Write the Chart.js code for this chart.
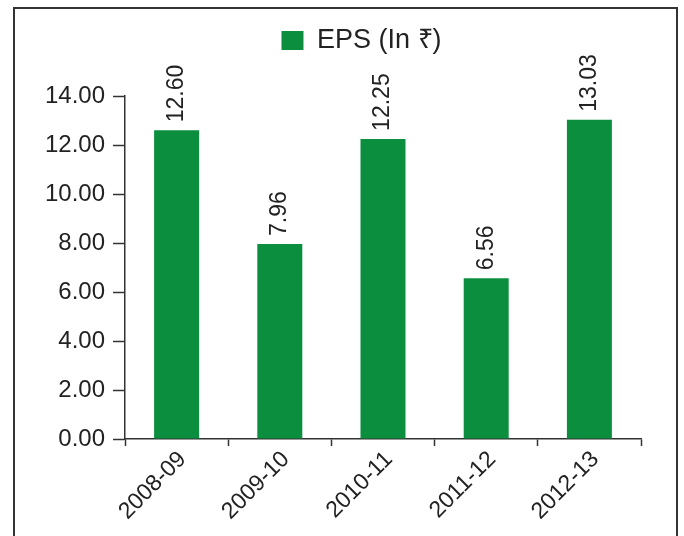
<!DOCTYPE html>
<html>
<head>
<meta charset="utf-8">
<script src="https://cdn.jsdelivr.net/npm/chart.js@4.4.0/dist/chart.umd.min.js"></script>
<style>
  html, body { margin: 0; padding: 0; background: #fff; overflow: hidden; }
  #wrap { position: relative; width: 684px; height: 536px; }
  #frame {
    position: absolute; left: 13px; top: 7px; width: 665px; height: 600px;
    border: 2px solid #333; box-sizing: border-box;
  }
  canvas { position: absolute; left: 0; top: 0; }
</style>
</head>
<body>
<div id="wrap">
  <div id="frame"></div>
  <canvas id="chart" width="684" height="536"></canvas>
</div>
<script>
const years = ["2008-09", "2009-10", "2010-11", "2011-12", "2012-13"];
const eps = [12.60, 7.96, 12.25, 6.56, 13.03];
const seriesName = "EPS (In \u20B9)";

const FONT = "'Liberation Sans', Arial, sans-serif";
const GREEN = "#0b8f3f";
const INK = "#222";

// leave room under the legend and nudge it right, like the original
const legendGap = {
  id: "legendGap",
  beforeUpdate(chart) {
    const lg = chart.legend;
    if (lg && !lg._gapPatched) {
      const fit = lg.fit.bind(lg);
      lg.fit = function () { fit(); this.height += 32; };
      lg._gapPatched = true;
    }
  },
  afterLayout(chart) {
    const lg = chart.legend;
    if (lg) { lg.left += 41; lg.right += 41; }
  }
};

// value labels rotated upright above each bar
const barValues = {
  id: "barValues",
  afterDatasetsDraw(chart) {
    const ctx = chart.ctx;
    const meta = chart.getDatasetMeta(0);
    ctx.save();
    ctx.font = "23px " + FONT;
    ctx.fillStyle = INK;
    ctx.textAlign = "left";
    ctx.textBaseline = "middle";
    meta.data.forEach((bar, i) => {
      ctx.save();
      ctx.translate(bar.x, bar.y - 8);
      ctx.rotate(-Math.PI / 2);
      ctx.fillText(eps[i].toFixed(2), 0, 0);
      ctx.restore();
    });
    ctx.restore();
  }
};

new Chart(document.getElementById("chart"), {
  type: "bar",
  data: {
    labels: years,
    datasets: [{
      label: seriesName,
      data: eps,
      backgroundColor: GREEN,
      borderWidth: 0,
      categoryPercentage: 0.436,
      barPercentage: 1
    }]
  },
  options: {
    responsive: false,
    animation: false,
    layout: { padding: { top: 15, right: 43, left: 0, bottom: 0 } },
    plugins: {
      legend: {
        display: true,
        labels: {
          boxWidth: 22,
          boxHeight: 19,
          padding: 12,
          color: INK,
          font: { family: FONT, size: 27 }
        }
      },
      tooltip: { enabled: false }
    },
    scales: {
      x: {
        grid: {
          offset: true,
          drawOnChartArea: false,
          tickLength: 7,
          color: "#333",
          tickWidth: 1.5
        },
        border: { color: "#333", width: 1.5 },
        ticks: {
          color: INK,
          font: { family: FONT, size: 23 },
          minRotation: 45,
          maxRotation: 45,
          padding: 0,
          labelOffset: 6
        },
        afterFit(scale) { scale.height = 97; }
      },
      y: {
        min: 0,
        max: 14,
        grid: {
          drawOnChartArea: false,
          tickLength: 12,
          color: "#333",
          tickWidth: 1.5
        },
        border: { color: "#333", width: 1.5 },
        ticks: {
          stepSize: 2,
          color: INK,
          padding: 8,
          font: { family: FONT, size: 24 },
          callback: v => Number(v).toFixed(2)
        },
        afterFit(scale) { scale.width = 125; }
      }
    }
  },
  plugins: [legendGap, barValues]
});
</script>
</body>
</html>
